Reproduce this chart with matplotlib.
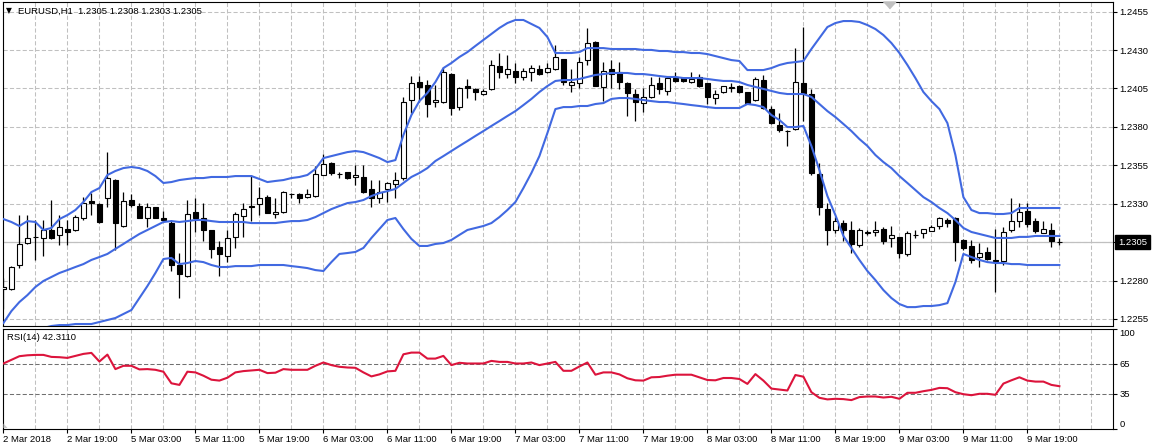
import numpy as np
import matplotlib
matplotlib.use('Agg')
import matplotlib.pyplot as plt
from matplotlib.patches import Polygon

plt.rcParams['font.family'] = ['Liberation Sans', 'DejaVu Sans']
plt.rcParams['lines.scale_dashes'] = False

# ---------------- data ----------------
symbol_header = "EURUSD,H1  1.2305 1.2308 1.2303 1.2305"
rsi_header = "RSI(14) 42.3110"
bid_price = 1.2305

opens = [
    1.22747, 1.22743, 1.22901, 1.23042, 1.23081, 1.23075, 1.23129, 1.23096, 1.23136, 1.23129,
    1.23205, 1.23318, 1.23298, 1.23335, 1.23455, 1.23155, 1.23324, 1.23285, 1.23205, 1.23277,
    1.23209, 1.23177, 1.22901, 1.22830, 1.23246, 1.23205, 1.23129, 1.23016, 1.22962, 1.23081,
    1.23222, 1.23283, 1.23296, 1.23342, 1.23233, 1.23248, 1.23361, 1.23363, 1.23342, 1.23353,
    1.23487, 1.23563, 1.23496, 1.23504, 1.23472, 1.23472, 1.23394, 1.23335, 1.23394, 1.23426,
    1.23467, 1.23974, 1.24094, 1.24072, 1.23959, 1.23959, 1.24144, 1.23931, 1.24066, 1.24046,
    1.24011, 1.24044, 1.24196, 1.24142, 1.24163, 1.24122, 1.24155, 1.24176, 1.24155, 1.24174,
    1.24241, 1.24072, 1.24083, 1.24235, 1.24350, 1.24061, 1.24174, 1.24159, 1.24087, 1.24014,
    1.23953, 1.23996, 1.24087, 1.24033, 1.24116, 1.24116, 1.24090, 1.24122, 1.24083, 1.23990,
    1.24024, 1.24055, 1.24066, 1.24024, 1.23974, 1.24105, 1.23916, 1.23812, 1.23775, 1.23784,
    1.24083, 1.24011, 1.23494, 1.23264, 1.23129, 1.23172, 1.23129, 1.23031, 1.23112, 1.23114,
    1.23136, 1.23075, 1.23081, 1.22973, 1.23096, 1.23107, 1.23122, 1.23155, 1.23194, 1.23205,
    1.23064, 1.23025, 1.22951, 1.22984, 1.22934, 1.22929, 1.23129, 1.23190, 1.23253, 1.23190,
    1.23112, 1.23129, 1.23050]

highs = [
    1.22819, 1.22895, 1.23227, 1.23227, 1.23194, 1.23194, 1.23324, 1.23227, 1.23194, 1.23227,
    1.23346, 1.23368, 1.23303, 1.23639, 1.23460, 1.23379, 1.23363, 1.23303, 1.23303, 1.23281,
    1.23253, 1.23194, 1.22977, 1.23324, 1.23335, 1.23303, 1.23129, 1.23060, 1.23129, 1.23248,
    1.23303, 1.23487, 1.23407, 1.23357, 1.23335, 1.23381, 1.23372, 1.23368, 1.23394, 1.23546,
    1.23624, 1.23574, 1.23509, 1.23506, 1.23552, 1.23552, 1.23455, 1.23455, 1.23444, 1.23509,
    1.23996, 1.24131, 1.24131, 1.24105, 1.24072, 1.24191, 1.24150, 1.24057, 1.24111, 1.24050,
    1.24044, 1.24235, 1.24278, 1.24267, 1.24213, 1.24185, 1.24202, 1.24202, 1.24213, 1.24333,
    1.24245, 1.24176, 1.24257, 1.24441, 1.24361, 1.24224, 1.24235, 1.24220, 1.24090, 1.24046,
    1.24055, 1.24126, 1.24126, 1.24126, 1.24159, 1.24122, 1.24159, 1.24144, 1.24085, 1.24040,
    1.24068, 1.24083, 1.24072, 1.24029, 1.24122, 1.24137, 1.23935, 1.23892, 1.23779, 1.24311,
    1.24452, 1.24044, 1.23563, 1.23303, 1.23216, 1.23194, 1.23188, 1.23140, 1.23129, 1.23190,
    1.23146, 1.23155, 1.23085, 1.23122, 1.23129, 1.23138, 1.23162, 1.23216, 1.23205, 1.23216,
    1.23068, 1.23064, 1.23047, 1.23016, 1.23136, 1.23146, 1.23335, 1.23303, 1.23303, 1.23205,
    1.23188, 1.23177, 1.23080]

lows = [
    1.22613, 1.22740, 1.22879, 1.23040, 1.22934, 1.22960, 1.23070, 1.23031, 1.23031, 1.23125,
    1.23194, 1.23227, 1.23177, 1.23281, 1.22999, 1.23151, 1.23281, 1.23205, 1.23146, 1.23205,
    1.23183, 1.22864, 1.22684, 1.22825, 1.23114, 1.23060, 1.22945, 1.22830, 1.22919, 1.23010,
    1.23081, 1.23190, 1.23227, 1.23238, 1.23205, 1.23238, 1.23335, 1.23303, 1.23335, 1.23346,
    1.23487, 1.23487, 1.23465, 1.23463, 1.23422, 1.23368, 1.23281, 1.23303, 1.23313, 1.23335,
    1.23455, 1.23888, 1.23964, 1.23862, 1.23931, 1.23955, 1.23877, 1.23909, 1.23990, 1.23974,
    1.24007, 1.24040, 1.24120, 1.24120, 1.24087, 1.24105, 1.24100, 1.24140, 1.24148, 1.24170,
    1.24072, 1.24029, 1.24050, 1.24202, 1.24065, 1.23968, 1.24050, 1.24044, 1.23873, 1.23840,
    1.23899, 1.23990, 1.24011, 1.24007, 1.24094, 1.24094, 1.24087, 1.24061, 1.23946, 1.23946,
    1.24022, 1.24024, 1.24022, 1.23949, 1.23970, 1.23918, 1.23820, 1.23768, 1.23677, 1.23779,
    1.23840, 1.23490, 1.23227, 1.23031, 1.23112, 1.23060, 1.22977, 1.23016, 1.23094, 1.23090,
    1.23038, 1.23020, 1.22945, 1.22960, 1.23075, 1.23075, 1.23120, 1.23133, 1.23146, 1.22929,
    1.22999, 1.22912, 1.22890, 1.22934, 1.22723, 1.22901, 1.23118, 1.23151, 1.23151, 1.23107,
    1.23107, 1.23020, 1.23030]

closes = [
    1.22760, 1.22890, 1.23036, 1.23075, 1.23085, 1.23129, 1.23075, 1.23146, 1.23114, 1.23211,
    1.23303, 1.23303, 1.23183, 1.23465, 1.23172, 1.23318, 1.23292, 1.23209, 1.23277, 1.23209,
    1.23194, 1.22901, 1.22843, 1.23233, 1.23207, 1.23129, 1.23003, 1.22973, 1.23075, 1.23231,
    1.23264, 1.23281, 1.23335, 1.23242, 1.23246, 1.23376, 1.23363, 1.23335, 1.23363, 1.23494,
    1.23559, 1.23502, 1.23494, 1.23465, 1.23487, 1.23379, 1.23335, 1.23379, 1.23433, 1.23455,
    1.23959, 1.24083, 1.24061, 1.23948, 1.23974, 1.24159, 1.23920, 1.24050, 1.24050, 1.24024,
    1.24033, 1.24200, 1.24155, 1.24174, 1.24126, 1.24163, 1.24181, 1.24144, 1.24181, 1.24252,
    1.24094, 1.24094, 1.24220, 1.24343, 1.24068, 1.24163, 1.24144, 1.24090, 1.24022, 1.23964,
    1.23992, 1.24072, 1.24044, 1.24116, 1.24100, 1.24100, 1.24111, 1.24066, 1.23996, 1.24011,
    1.24066, 1.24057, 1.24024, 1.23953, 1.24111, 1.23920, 1.23827, 1.23779, 1.23771, 1.24090,
    1.24022, 1.23498, 1.23277, 1.23129, 1.23188, 1.23129, 1.23038, 1.23129, 1.23118, 1.23129,
    1.23060, 1.23094, 1.22981, 1.23107, 1.23098, 1.23136, 1.23146, 1.23205, 1.23172, 1.23053,
    1.23014, 1.22934, 1.22977, 1.22938, 1.22927, 1.23114, 1.23188, 1.23244, 1.23168, 1.23125,
    1.23133, 1.23060, 1.23050]

bb_upper = [
    1.23200, 1.23181, 1.23155, 1.23187, 1.23181, 1.23129, 1.23142, 1.23200, 1.23226, 1.23259,
    1.23311, 1.23376, 1.23402, 1.23487, 1.23513, 1.23532, 1.23539, 1.23532, 1.23513, 1.23480,
    1.23435, 1.23441, 1.23454, 1.23461, 1.23467, 1.23467, 1.23474, 1.23474, 1.23474, 1.23480,
    1.23480, 1.23480, 1.23461, 1.23441, 1.23448, 1.23454, 1.23467, 1.23474, 1.23487, 1.23526,
    1.23597, 1.23610, 1.23623, 1.23636, 1.23643, 1.23636, 1.23617, 1.23597, 1.23571, 1.23584,
    1.23747, 1.23877, 1.23968, 1.24021, 1.24092, 1.24183, 1.24216, 1.24255, 1.24287, 1.24327,
    1.24366, 1.24405, 1.24444, 1.24476, 1.24496, 1.24496, 1.24470, 1.24444, 1.24385, 1.24281,
    1.24281, 1.24281, 1.24287, 1.24313, 1.24313, 1.24313, 1.24307, 1.24307, 1.24307, 1.24307,
    1.24301, 1.24301, 1.24294, 1.24294, 1.24287, 1.24287, 1.24281, 1.24281, 1.24274, 1.24261,
    1.24248, 1.24235, 1.24229, 1.24170, 1.24170, 1.24170, 1.24183, 1.24203, 1.24216, 1.24222,
    1.24229, 1.24307, 1.24379, 1.24450, 1.24476, 1.24489, 1.24489, 1.24483, 1.24463, 1.24437,
    1.24398, 1.24346, 1.24281, 1.24203, 1.24118, 1.24027, 1.23968, 1.23916, 1.23825, 1.23617,
    1.23343, 1.23259, 1.23239, 1.23239, 1.23233, 1.23233, 1.23239, 1.23272, 1.23272, 1.23272,
    1.23272, 1.23272, 1.23272]

bb_middle = [
    1.22523, 1.22601, 1.22660, 1.22705, 1.22758, 1.22797, 1.22823, 1.22849, 1.22868, 1.22888,
    1.22907, 1.22934, 1.22953, 1.22973, 1.23006, 1.23038, 1.23071, 1.23103, 1.23129, 1.23155,
    1.23181, 1.23187, 1.23181, 1.23187, 1.23194, 1.23194, 1.23187, 1.23181, 1.23181, 1.23181,
    1.23181, 1.23174, 1.23174, 1.23174, 1.23174, 1.23181, 1.23187, 1.23187, 1.23194, 1.23213,
    1.23239, 1.23265, 1.23285, 1.23304, 1.23311, 1.23324, 1.23350, 1.23369, 1.23382, 1.23396,
    1.23435, 1.23474, 1.23500, 1.23532, 1.23578, 1.23610, 1.23643, 1.23676, 1.23708, 1.23741,
    1.23773, 1.23806, 1.23838, 1.23871, 1.23903, 1.23942, 1.23982, 1.24027, 1.24066, 1.24099,
    1.24105, 1.24105, 1.24112, 1.24125, 1.24138, 1.24144, 1.24151, 1.24151, 1.24151, 1.24144,
    1.24144, 1.24138, 1.24131, 1.24125, 1.24125, 1.24118, 1.24118, 1.24118, 1.24112, 1.24105,
    1.24099, 1.24099, 1.24092, 1.24073, 1.24060, 1.24047, 1.24034, 1.24021, 1.24014, 1.24014,
    1.24014, 1.23995, 1.23949, 1.23903, 1.23864, 1.23819, 1.23773, 1.23721, 1.23676, 1.23617,
    1.23571, 1.23532, 1.23480, 1.23435, 1.23389, 1.23343, 1.23311, 1.23272, 1.23239, 1.23194,
    1.23142, 1.23116, 1.23103, 1.23090, 1.23077, 1.23077, 1.23077, 1.23084, 1.23084, 1.23090,
    1.23090, 1.23090, 1.23090]

bb_lower = [
    1.22380, 1.22413, 1.22439, 1.22465, 1.22478, 1.22491, 1.22504, 1.22510, 1.22510, 1.22517,
    1.22517, 1.22517, 1.22530, 1.22543, 1.22556, 1.22582, 1.22608, 1.22686, 1.22764, 1.22849,
    1.22940, 1.22947, 1.22907, 1.22914, 1.22927, 1.22920, 1.22901, 1.22888, 1.22888, 1.22894,
    1.22894, 1.22894, 1.22901, 1.22901, 1.22901, 1.22901, 1.22894, 1.22888, 1.22881, 1.22868,
    1.22862, 1.22920, 1.22973, 1.22979, 1.22986, 1.23012, 1.23077, 1.23135, 1.23194, 1.23207,
    1.23135, 1.23071, 1.23025, 1.23025, 1.23038, 1.23044, 1.23064, 1.23097, 1.23129, 1.23142,
    1.23155, 1.23174, 1.23213, 1.23259, 1.23311, 1.23402, 1.23500, 1.23610, 1.23760, 1.23916,
    1.23929, 1.23929, 1.23936, 1.23936, 1.23949, 1.23955, 1.23982, 1.23988, 1.23988, 1.23982,
    1.23975, 1.23968, 1.23962, 1.23962, 1.23955, 1.23949, 1.23942, 1.23936, 1.23929, 1.23923,
    1.23923, 1.23923, 1.23923, 1.23949, 1.23942, 1.23929, 1.23877, 1.23845, 1.23799, 1.23799,
    1.23806, 1.23676, 1.23519, 1.23350, 1.23226, 1.23090, 1.23012, 1.22934, 1.22862, 1.22803,
    1.22738, 1.22686, 1.22647, 1.22627, 1.22627, 1.22634, 1.22634, 1.22640, 1.22653, 1.22790,
    1.22973, 1.22953, 1.22934, 1.22920, 1.22914, 1.22914, 1.22907, 1.22907, 1.22901, 1.22901,
    1.22901, 1.22901, 1.22901]

rsi_values = [
    65.0, 68.6, 72.3, 73.2, 73.6, 73.6, 71.6, 71.3, 70.6, 72.6,
    74.6, 75.6, 67.0, 73.9, 59.4, 62.7, 62.7, 59.1, 59.4, 58.7,
    56.8, 45.2, 43.6, 56.8, 56.1, 52.8, 48.8, 47.9, 50.8, 56.1,
    57.4, 58.1, 58.7, 55.4, 55.8, 59.4, 58.7, 58.7, 58.7, 62.7,
    66.0, 63.4, 61.7, 61.0, 60.7, 56.1, 52.1, 54.1, 57.1, 57.7,
    74.2, 75.9, 75.9, 69.9, 69.9, 72.6, 63.4, 65.7, 65.0, 65.0,
    65.0, 67.6, 66.6, 66.6, 65.0, 65.0, 66.0, 63.4, 65.0, 66.6,
    57.7, 57.7, 62.0, 66.0, 53.8, 56.1, 56.1, 54.1, 50.2, 48.2,
    47.9, 51.2, 51.5, 52.8, 53.8, 53.8, 53.8, 51.2, 48.5, 48.2,
    50.5, 50.5, 49.5, 44.6, 54.4, 47.9, 39.9, 39.0, 38.0, 53.5,
    51.8, 36.3, 30.7, 29.1, 29.7, 29.4, 28.4, 31.4, 32.0, 32.0,
    31.0, 31.7, 29.7, 35.7, 35.7, 37.3, 38.6, 40.6, 40.3, 36.3,
    34.3, 33.3, 34.7, 34.7, 33.7, 44.9, 48.2, 51.2, 47.9, 46.9,
    46.9, 43.6, 42.3]

time_labels = ["2 Mar 2018", "2 Mar 19:00", "5 Mar 03:00", "5 Mar 11:00", "5 Mar 19:00",
               "6 Mar 03:00", "6 Mar 11:00", "6 Mar 19:00", "7 Mar 03:00", "7 Mar 11:00",
               "7 Mar 19:00", "8 Mar 03:00", "8 Mar 11:00", "8 Mar 19:00", "9 Mar 03:00",
               "9 Mar 11:00", "9 Mar 19:00"]
bars_per_label = 8
price_ticks = [1.2255, 1.2280, 1.2305, 1.2330, 1.2355, 1.2380, 1.2405, 1.2430, 1.2455]
rsi_ticks = [0, 35, 65, 100]
rsi_levels = [35, 65]

# ---------------- figure ----------------
W, H = 1152, 448
fig = plt.figure(figsize=(W / 100, H / 100), dpi=100)
fig.patch.set_facecolor('white')

def fx(px):
    return px / W

def fy(py):
    return 1 - py / H

L, R = 3, 1113
ax = fig.add_axes([fx(L), fy(326), fx(R) - fx(L), fy(2) - fy(326)])
ax2 = fig.add_axes([fx(L), fy(428.5), fx(R) - fx(L), fy(328.5) - fy(428.5)])

FS = 6.8
GRID = '#c0c0c0'
DASH = (0, (3, 1.6))
BLUE = '#4169E1'
RED = '#DC143C'

o = np.array(opens); h = np.array(highs); l = np.array(lows); c = np.array(closes)
n = len(o)
x = np.arange(n)
xlim = (-0.05, 138.7)

for a in (ax, ax2):
    a.set_xlim(*xlim)
    a.set_facecolor('white')
    for s in a.spines.values():
        s.set_color('black')
        s.set_linewidth(0.8)
    a.set_axisbelow(True)

# main price panel
ax.set_ylim(1.22504, 1.24613)
grid_pos = np.arange(0, int(xlim[1]) + 1, 4)
ax.set_xticks(grid_pos)
ax.tick_params(axis='x', length=0, labelbottom=False)
ax.grid(True, color=GRID, linestyle=DASH, linewidth=0.75)
ax.axhline(bid_price, color=GRID, lw=0.9, zorder=1)

ax.vlines(x, l, h, color='black', lw=0.9, zorder=3)
up = c >= o
bottom = np.minimum(o, c)
height = np.maximum(np.abs(c - o), 0.000004)
ax.bar(x[up], height[up], bottom=bottom[up], width=0.55, facecolor='white',
       edgecolor='black', linewidth=0.8, zorder=4)
ax.bar(x[~up], height[~up], bottom=bottom[~up], width=0.55, facecolor='black',
       edgecolor='black', linewidth=0.8, zorder=4)

for band in (bb_upper, bb_middle, bb_lower):
    ax.plot(x, band, color=BLUE, lw=1.5, zorder=5, solid_joinstyle='round')

ax.yaxis.tick_right()
ax.set_yticks(price_ticks)
ax.set_yticklabels(['' if abs(p - bid_price) < 1e-9 else f'{p:.4f}' for p in price_ticks])
ax.tick_params(axis='y', direction='out', length=3, width=0.8, pad=1.5, labelsize=FS,
               colors='black')

ax.annotate(f'{bid_price:.4f}', xy=(1, bid_price), xycoords=('axes fraction', 'data'),
            xytext=(3.6, 0), textcoords='offset points', ha='left', va='center',
            fontsize=FS, color='white',
            bbox=dict(boxstyle='square,pad=0.3', fc='black', ec='black'),
            annotation_clip=False, zorder=10)

# chart shift marker
ax.plot([110.75], [1.24593], marker=[(-1, 0.55), (1, 0.55), (0, -0.55)], ms=9,
        color='#c0c0c0', mec='#c0c0c0', clip_on=False, zorder=6)

# RSI panel
ax2.set_ylim(0, 100)
ax2.plot(x, rsi_values, color=RED, lw=1.5, zorder=5, solid_joinstyle='round')
for lv in rsi_levels:
    ax2.axhline(lv, color='#707070', linestyle=DASH, lw=0.75, zorder=2)
major = np.arange(len(time_labels)) * bars_per_label
minor = [g for g in grid_pos if g not in set(major.tolist())]
ax2.set_xticks(major)
ax2.set_xticks(minor, minor=True)
ax2.set_xticklabels(time_labels)
ax2.tick_params(axis='x', which='major', direction='out', length=3, width=0.8, pad=1.5,
                labelsize=FS)
ax2.tick_params(axis='x', which='minor', length=0)
for lab in ax2.get_xticklabels():
    lab.set_ha('left')
ax2.grid(True, which='both', axis='x', color=GRID, linestyle=DASH, linewidth=0.75)
ax2.grid(False, axis='y')

ax2.yaxis.tick_right()
ax2.set_yticks(rsi_ticks)
ax2.set_yticklabels([str(t) for t in rsi_ticks])
ax2.tick_params(axis='y', direction='out', length=3, width=0.8, pad=1.5, labelsize=FS)
for lab, t in zip(ax2.get_yticklabels(), rsi_ticks):
    if t == 100:
        lab.set_va('top')
    elif t == 0:
        lab.set_va('bottom')

# small grey corner marker in the RSI panel
fig.patches.append(Polygon([(fx(3.5), fy(428)), (fx(7.5), fy(428)), (fx(3.5), fy(423.5))],
                           closed=True, transform=fig.transFigure, fc='#c8c8c8',
                           ec='none', zorder=10))

# headers
fig.text(fx(9), fy(10.5), '\u25BC', ha='center', va='center', fontsize=5.5,
         family=['DejaVu Sans'], color='black')
fig.text(fx(18), fy(11), symbol_header, ha='left', va='center', fontsize=FS, color='black')
fig.text(fx(7), fy(337), rsi_header, ha='left', va='center', fontsize=FS, color='black')

fig.savefig('out.png', dpi=100, facecolor='white')
